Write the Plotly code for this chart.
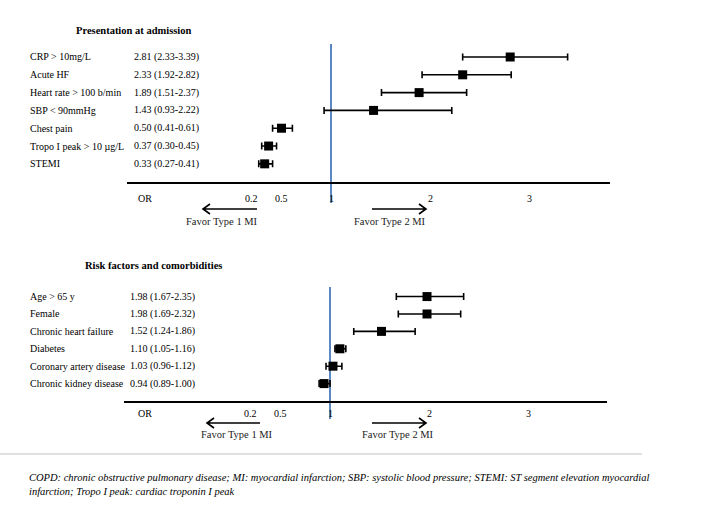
import plotly.graph_objects as go

W, H = 714, 505

# ---------------- data ----------------
top_title = "Presentation at admission"
top_labels = ["CRP > 10mg/L", "Acute HF", "Heart rate > 100 b/min", "SBP < 90mmHg",
              "Chest pain", "Tropo I peak > 10 µg/L", "STEMI"]
top_or = [2.81, 2.33, 1.89, 1.43, 0.50, 0.37, 0.33]
top_lo = [2.33, 1.92, 1.51, 0.93, 0.41, 0.30, 0.27]
top_hi = [3.39, 2.82, 2.37, 2.22, 0.61, 0.45, 0.41]

bot_title = "Risk factors and comorbidities"
bot_labels = ["Age > 65 y", "Female", "Chronic heart failure", "Diabetes",
              "Coronary artery disease", "Chronic kidney disease"]
bot_or = [1.98, 1.98, 1.52, 1.10, 1.03, 0.94]
bot_lo = [1.67, 1.69, 1.24, 1.05, 0.96, 0.89]
bot_hi = [2.35, 2.32, 1.86, 1.16, 1.12, 1.00]

tick_vals = [0.2, 0.5, 1, 2, 3]
tick_text = ["0.2", "0.5", "1", "2", "3"]
favor_left = "Favor Type 1 MI"
favor_right = "Favor Type 2 MI"
footnote = ["COPD: chronic obstructive pulmonary disease; MI: myocardial infarction; SBP: systolic blood pressure; STEMI: ST segment elevation myocardial",
            "infarction; Tropo I peak: cardiac troponin I peak"]

# ---------------- helpers ----------------
def px(x):
    return x / W

def py(y):
    return 1 - y / H

SERIF = "Liberation Serif"
FS = 10

fig = go.Figure()

def add_panel(ors, los, his, xa, ya):
    fig.add_trace(go.Scatter(
        x=ors, y=list(range(len(ors))), mode="markers",
        marker=dict(symbol="square", size=9, color="black"),
        error_x=dict(type="data", symmetric=False,
                     array=[h - o for h, o in zip(his, ors)],
                     arrayminus=[o - l for o, l in zip(ors, los)],
                     color="black", thickness=1.6, width=3.5),
        xaxis=xa, yaxis=ya, showlegend=False, hoverinfo="skip"))

add_panel(top_or, top_lo, top_hi, "x", "y")
add_panel(bot_or, bot_lo, bot_hi, "x2", "y2")

slope = 99.0  # px per OR unit
ax_common = dict(showgrid=False, zeroline=False, showticklabels=False, ticks="",
                 showline=True, linecolor="black", linewidth=2, fixedrange=True)
fig.update_layout(
    width=W, height=H, margin=dict(l=0, r=0, t=0, b=0),
    paper_bgcolor="white", plot_bgcolor="white",
    xaxis=dict(domain=[px(127), px(610)],
               range=[1 - (331 - 127) / slope, 1 + (610 - 331) / slope],
               anchor="y", **ax_common),
    yaxis=dict(domain=[py(182), py(44)], range=[7.02, -0.73], visible=False,
               anchor="x", fixedrange=True),
    xaxis2=dict(domain=[px(124), px(607)],
                range=[1 - (330 - 124) / slope, 1 + (607 - 330) / slope],
                anchor="y2", **ax_common),
    yaxis2=dict(domain=[py(401), py(287)], range=[6.0, -0.55], visible=False,
                anchor="x2", fixedrange=True),
)

ann = []
shapes = []

def panel_text(labels, ors, los, his, yref, vx, title, tx, ty, tick_y, xref):
    ann.append(dict(text=f"<b>{title}</b>", x=px(tx), y=py(ty), xref="paper", yref="paper",
                    showarrow=False, xanchor="center", yanchor="middle",
                    font=dict(family=SERIF, size=10.5, color="black")))
    for i, (lab, o, l, h) in enumerate(zip(labels, ors, los, his)):
        ann.append(dict(text=lab, x=px(28), y=i, xref="paper", yref=yref, showarrow=False,
                        xanchor="left", yanchor="middle",
                        font=dict(family=SERIF, size=FS, color="black")))
        ann.append(dict(text=f"{o:.2f} ({l:.2f}-{h:.2f})", x=px(vx), y=i, xref="paper",
                        yref=yref, showarrow=False, xanchor="left", yanchor="middle",
                        font=dict(family=SERIF, size=FS, color="black")))
    ann.append(dict(text="OR", x=px(145), y=py(tick_y), xref="paper", yref="paper",
                    showarrow=False, xanchor="center", yanchor="middle",
                    font=dict(family=SERIF, size=FS, color="black")))
    for v, t in zip(tick_vals, tick_text):
        ann.append(dict(text=t, x=v, y=py(tick_y), xref=xref, yref="paper",
                        showarrow=False, xanchor="center", yanchor="middle",
                        font=dict(family=SERIF, size=FS, color="black")))

panel_text(top_labels, top_or, top_lo, top_hi, "y", 132, top_title, 133, 30, 198, "x")
panel_text(bot_labels, bot_or, bot_lo, bot_hi, "y2", 128, bot_title, 153, 265, 413, "x2")

# reference line at OR = 1
shapes.append(dict(type="line", xref="x", yref="paper", x0=1, x1=1, y0=py(203), y1=py(44),
                   line=dict(color="#5B88C2", width=2), layer="below"))
shapes.append(dict(type="line", xref="x2", yref="paper", x0=1, x1=1, y0=py(419), y1=py(287),
                   line=dict(color="#5B88C2", width=2), layer="below"))

def arrow(x_tail, x_head, y):
    d = 7 if x_head < x_tail else -7
    path = (f"M {px(x_tail)},{py(y)} L {px(x_head)},{py(y)} "
            f"M {px(x_head + d)},{py(y - 5)} L {px(x_head)},{py(y)} L {px(x_head + d)},{py(y + 5)}")
    shapes.append(dict(type="path", xref="paper", yref="paper", path=path,
                       line=dict(color="black", width=1.6)))

def favor(text, x, y):
    ann.append(dict(text=text, x=px(x), y=py(y), xref="paper", yref="paper", showarrow=False,
                    xanchor="center", yanchor="middle",
                    font=dict(family=SERIF, size=10.5, color="#222")))

arrow(257, 203, 209); arrow(372, 426, 209)
favor(favor_left, 222, 222); favor(favor_right, 390, 222)
arrow(260, 207, 423); arrow(372, 426, 423)
favor(favor_left, 237, 434); favor(favor_right, 398, 434)

# separator line
shapes.append(dict(type="line", xref="paper", yref="paper", x0=0, x1=px(642), y0=py(454),
                   y1=py(454), line=dict(color="#d6d6d6", width=1.5)))

for i, line in enumerate(footnote):
    ann.append(dict(text=f"<i>{line}</i>", x=px(27), y=py(477 + 14 * i), xref="paper",
                    yref="paper", showarrow=False, xanchor="left", yanchor="middle",
                    font=dict(family=SERIF, size=10.5, color="black")))

fig.update_layout(annotations=ann, shapes=shapes)
fig.write_html("out.html", config={"displayModeBar": False, "staticPlot": True},
               post_script="document.body.style.margin='0px';")
